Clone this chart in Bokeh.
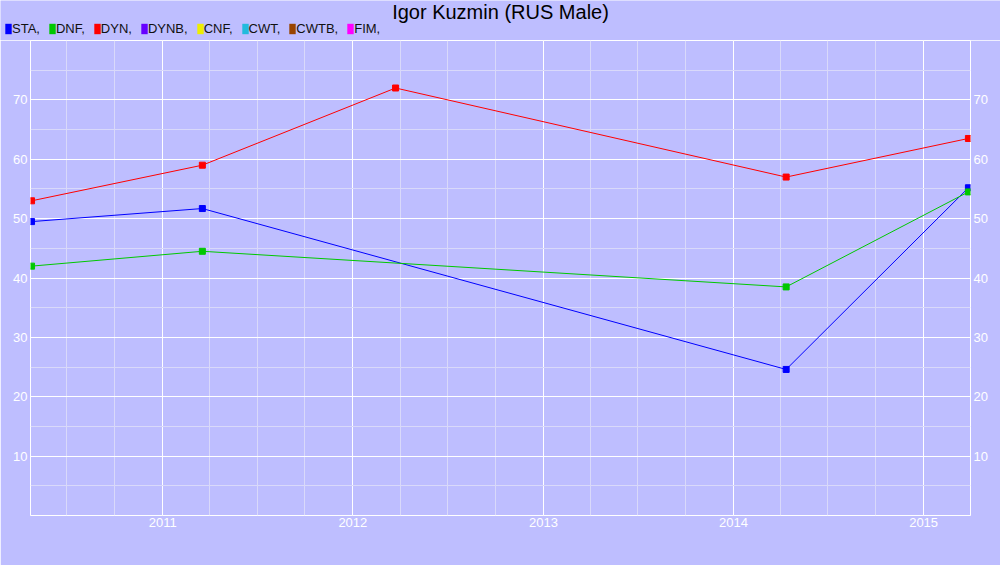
import pandas as pd
from bokeh.plotting import figure
from bokeh.layouts import column
from bokeh.models import (FixedTicker, LinearAxis, Range1d, Legend, LegendItem,
                          DatetimeTickFormatter, Label)
from bokeh.embed import file_html
from bokeh.resources import INLINE

chart_title = "Igor Kuzmin (RUS Male)"

sta_dates = ["2010-04-24", "2011-03-18", "2014-04-12", "2015-03-28"]
sta_values = [49.5, 51.7, 24.6, 55.2]

dnf_dates = ["2010-04-24", "2011-03-18", "2014-04-12", "2015-03-28"]
dnf_values = [42.0, 44.5, 38.5, 54.5]

dyn_dates = ["2010-04-24", "2011-03-18", "2012-03-23", "2014-04-12", "2015-03-28"]
dyn_values = [53.0, 59.0, 72.0, 57.0, 63.5]

legend_names = ["STA", "DNF", "DYN", "DYNB", "CNF", "CWT", "CWTB", "FIM"]
legend_colors = ["#0000FF", "#00C800", "#FF0000", "#6600FF", "#EEEE00",
                 "#22BBDD", "#994400", "#FF00FF"]

year_ticks = ["2011-01-01", "2012-01-01", "2013-01-01", "2014-01-01", "2015-01-01"]
y_ticks = [10, 20, 30, 40, 50, 60, 70]
y_minor_ticks = [5, 15, 25, 35, 45, 55, 65, 75]
x_start, x_end = "2010-04-22", "2015-04-01"
y_start, y_end = 0, 80

BG = "#BEBEFF"
MINOR = "#D9D9FA"
FONT = "Liberation Sans"
W, HEADER_H, MAIN_H = 1000, 40, 525
NAN = float("nan")


def ms(d):
    return pd.Timestamp(d).value / 1e6


# ---------- header: title + legend ----------
head = figure(width=W, height=HEADER_H, x_range=Range1d(0, W), y_range=Range1d(0, HEADER_H),
              x_axis_type=None, y_axis_type=None, output_backend="svg",
              toolbar_location=None, min_border=0, min_border_left=0,
              min_border_right=0, min_border_top=0, min_border_bottom=0,
              background_fill_color=BG, border_fill_color=BG, outline_line_color=None)
head.frame_align = False
head.grid.visible = False

head.add_layout(Label(x=W / 2, y=HEADER_H - 11, x_units="screen", y_units="screen",
                      text=chart_title, text_align="center", text_baseline="middle",
                      text_font=FONT, text_font_size="20px", text_color="#000000"))

items = []
for name, col in zip(legend_names, legend_colors):
    # legend swatch only: a single undefined (NaN) cell, nothing is plotted
    r = head.quad(left=[NAN], right=[NAN], top=[NAN], bottom=[NAN],
                  fill_color=col, line_color=None)
    items.append(LegendItem(label=name + ",", renderers=[r]))

legend = Legend(items=items, orientation="horizontal", location=(4, 4),
                glyph_width=8, glyph_height=13, label_standoff=0, spacing=8,
                padding=0, margin=0, border_line_color=None,
                background_fill_alpha=0, label_text_font=FONT,
                label_text_font_size="13px", label_height=13,
                label_text_color="#111111")
head.add_layout(legend)

# ---------- main chart ----------
p = figure(width=W, height=MAIN_H, x_axis_type="datetime",
           x_range=Range1d(pd.Timestamp(x_start), pd.Timestamp(x_end)),
           y_range=Range1d(y_start, y_end),
           output_backend="svg", toolbar_location=None,
           min_border_left=30, min_border_right=30,
           min_border_top=0, min_border_bottom=50,
           background_fill_color=BG, border_fill_color=BG,
           outline_line_color="white")
p.frame_align = False

x_major = [ms(d) for d in year_ticks]
x_minor = [ms(d) for d in pd.date_range("2010-04-01", "2015-04-01", freq="QS")]
xt = FixedTicker(ticks=x_major, minor_ticks=x_minor)
p.xaxis.ticker = xt
p.xaxis.formatter = DatetimeTickFormatter(years="%Y", months="%Y", days="%Y",
                                          hours="%Y", minutes="%Y", seconds="%Y",
                                          milliseconds="%Y", microseconds="%Y",
                                          hourmin="%Y", minsec="%Y")

yt = FixedTicker(ticks=y_ticks, minor_ticks=y_minor_ticks)
p.yaxis.ticker = yt
p.add_layout(LinearAxis(ticker=yt), "right")

for ax in p.axis:
    ax.axis_line_color = None
    ax.major_tick_line_color = None
    ax.minor_tick_line_color = None
    ax.major_tick_out = 0
    ax.major_tick_in = 0
    ax.minor_tick_out = 0
    ax.minor_tick_in = 0
    ax.major_label_text_color = "white"
    ax.major_label_text_font = FONT
    ax.major_label_text_font_size = "13px"
    ax.major_label_standoff = 3

p.xaxis.major_label_standoff = 2

for g in (p.xgrid, p.ygrid):
    g.grid_line_color = "white"
    g.grid_line_alpha = 1
    g.minor_grid_line_color = MINOR

series = [
    (sta_dates, sta_values, legend_colors[0]),
    (dnf_dates, dnf_values, legend_colors[1]),
    (dyn_dates, dyn_values, legend_colors[2]),
]
for dates, vals, col in series:
    xs = pd.to_datetime(dates)
    p.line(xs, vals, line_color=col, line_width=1)
    p.scatter(xs, vals, marker="square", size=6, fill_color=col, line_color=col)

layout = column(head, p, spacing=0)
open("out.html", "w").write(file_html(layout, INLINE))
